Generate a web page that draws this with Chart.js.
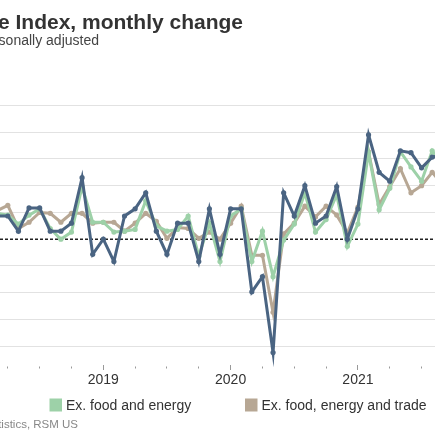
<!DOCTYPE html>
<html>
<head>
<meta charset="utf-8">
<script src="https://cdn.jsdelivr.net/npm/chart.js@4.4.1/dist/chart.umd.min.js"></script>
<style>
  html, body { margin: 0; padding: 0; background: #fff; overflow: hidden; }
  #frame { position: relative; width: 435px; height: 435px; overflow: hidden; }
  #ppi-chart { position: absolute; left: 0; top: 0; width: 435px; height: 435px; }
</style>
</head>
<body>
<div id="frame">
<canvas id="ppi-chart" width="435" height="435"></canvas>
</div>
<script>
// months from Mar 2018 to Sep 2021
const months = ["2018-03","2018-04","2018-05","2018-06","2018-07","2018-08","2018-09","2018-10","2018-11","2018-12",
    "2019-01","2019-02","2019-03","2019-04","2019-05","2019-06","2019-07","2019-08","2019-09","2019-10","2019-11","2019-12",
    "2020-01","2020-02","2020-03","2020-04","2020-05","2020-06","2020-07","2020-08","2020-09","2020-10","2020-11","2020-12",
    "2021-01","2021-02","2021-03","2021-04","2021-05","2021-06","2021-07","2021-08","2021-09"];

// percent change, month over month
const final_demand = [0.26,0.26,0.09,0.35,0.35,0.09,0.09,0.18,0.69,-0.17,
    0.00,-0.25,0.26,0.34,0.52,0.09,-0.17,0.18,0.18,-0.25,0.34,-0.17,
    0.34,0.34,-0.59,-0.42,-1.27,0.52,0.26,0.60,0.18,0.26,0.59,0.00,
    0.34,1.17,0.75,0.65,0.99,0.97,0.80,0.92,0.94];
const ex_food_energy = [0.29,0.27,0.17,0.27,0.34,0.12,0.00,0.08,0.59,0.19,
    0.19,0.08,0.09,0.11,0.43,0.15,0.09,0.11,0.26,-0.19,0.18,-0.25,
    0.26,0.34,-0.25,0.09,-0.42,-0.01,0.17,0.52,0.08,0.22,0.50,-0.08,
    0.17,0.97,0.33,0.57,0.98,0.81,0.65,0.99,0.83];
const ex_food_energy_trade = [0.32,0.38,0.12,0.19,0.30,0.29,0.19,0.29,0.29,0.18,
    0.19,0.19,0.09,0.18,0.29,0.20,0.01,0.13,0.12,0.01,0.08,0.00,
    0.18,0.37,-0.18,-0.18,-0.82,0.06,0.18,0.37,0.25,0.37,0.27,0.07,
    0.36,0.98,0.39,0.59,0.79,0.52,0.60,0.75,0.61];

const y_ticks = [-1.2,-0.9,-0.6,-0.3,0,0.3,0.6,0.9,1.2,1.5];

const series_names = ["Final demand", "Ex. food and energy", "Ex. food, energy and trade"];
const series_colors = ["#4a6482", "#9dd1a8", "#b7a794"];

const title_text = "Producer Price Index, monthly change";
const subtitle_text = "Seasonally adjusted";
const source_text = "Source: Bureau of Labor Statistics, RSM US";

const FONT = "'Liberation Sans', Arial, sans-serif";

function monthOf(i) {
    return parseInt(months[i].slice(5), 10);
}

// dashed zero line
const zeroLine = {
    id: "zeroLine",
    beforeDatasetsDraw(chart) {
        const {ctx, chartArea, scales} = chart;
        const y = scales.y.getPixelForValue(0);
        ctx.save();
        ctx.strokeStyle = "#222";
        ctx.lineWidth = 1.5;
        ctx.setLineDash([3, 2]);
        ctx.beginPath();
        ctx.moveTo(chartArea.left, y);
        ctx.lineTo(chartArea.right, y);
        ctx.stroke();
        ctx.restore();
    }
};

// title, subtitle, legend and source (the crop cuts the left of the texts)
const headerFooter = {
    id: "headerFooter",
    afterDraw(chart) {
        const ctx = chart.ctx;
        ctx.save();
        ctx.textBaseline = "alphabetic";

        ctx.fillStyle = "#333";
        ctx.font = "bold 21px " + FONT;
        ctx.textAlign = "right";
        ctx.fillText(title_text, 243, 29);

        ctx.fillStyle = "#444";
        ctx.font = "14px " + FONT;
        ctx.fillText(subtitle_text, 99, 45.3);

        ctx.fillStyle = "#888";
        ctx.font = "11.5px " + FONT;
        ctx.fillText(source_text, 78, 428.3);

        // legend, only the two items inside the crop
        const leg_x = [null, 49.5, 245];
        ctx.font = "14px " + FONT;
        ctx.textAlign = "left";
        for (let i = 0; i < series_names.length; i++) {
            if (leg_x[i] === null) continue;
            ctx.fillStyle = series_colors[i];
            ctx.fillRect(leg_x[i], 398.5, 12.5, 13);
            ctx.fillStyle = "#333";
            ctx.fillText(series_names[i], leg_x[i] + 16.5, 409.5);
        }
        ctx.restore();
    }
};

const all_data = [final_demand, ex_food_energy, ex_food_energy_trade];
const datasets = [];
for (let i = 0; i < all_data.length; i++) {
    datasets.push({
        label: series_names[i],
        data: all_data[i].map((v, j) => ({ x: j, y: v })),
        borderColor: series_colors[i],
        backgroundColor: series_colors[i],
        borderWidth: 3,
        pointRadius: 2.6,
        pointBorderWidth: 0,
        pointHoverRadius: 2.6,
        tension: 0,
        clip: false
    });
}

// quarter ticks: Jan, Apr, Jul, Oct
const quarter_ticks = [];
for (let i = 0; i < months.length; i++) {
    if (monthOf(i) % 3 == 1) quarter_ticks.push(i);
}

new Chart("ppi-chart", {
    type: "line",
    data: { datasets: datasets },
    plugins: [zeroLine, headerFooter],
    options: {
        responsive: false,
        animation: false,
        layout: { autoPadding: false, padding: { left: 0, right: 0, top: 78.6, bottom: 45 } },
        plugins: {
            legend: { display: false },
            tooltip: { enabled: false }
        },
        scales: {
            x: {
                type: "linear",
                min: 0.264,
                max: 41.264,
                border: { display: false },
                afterBuildTicks: function(scale) {
                    scale.ticks = quarter_ticks.map(v => ({ value: v }));
                },
                grid: {
                    drawOnChartArea: false,
                    tickLength: 5,
                    tickWidth: 1,
                    tickColor: "#999",
                    tickBorderDash: function(ctx) {
                        return (ctx.tick && monthOf(ctx.tick.value) == 1) ? [] : [2, 20];
                    },
                    tickBorderDashOffset: function(ctx) {
                        return (ctx.tick && monthOf(ctx.tick.value) == 1) ? 0 : 20.5;
                    }
                },
                ticks: {
                    autoSkip: false,
                    maxRotation: 0,
                    padding: 2,
                    color: "#333",
                    font: { family: FONT, size: 14 },
                    callback: function(value) {
                        return monthOf(value) == 1 ? months[value].slice(0, 4) : "";
                    }
                },
                afterFit: function(scale) {
                    scale.height = 25;
                    scale.paddingLeft = 0;
                    scale.paddingRight = 0;
                }
            },
            y: {
                min: -1.41,
                max: 1.8,
                border: { display: false },
                afterBuildTicks: function(scale) {
                    scale.ticks = y_ticks.map(v => ({ value: v }));
                },
                grid: {
                    drawTicks: false,
                    lineWidth: 1,
                    color: function(ctx) {
                        return (ctx.tick && ctx.tick.value === 0) ? "rgba(0,0,0,0)" : "#e2e2e2";
                    }
                },
                ticks: { display: false },
                afterFit: function(scale) { scale.width = 0; }
            }
        }
    }
});
</script>
</body>
</html>
